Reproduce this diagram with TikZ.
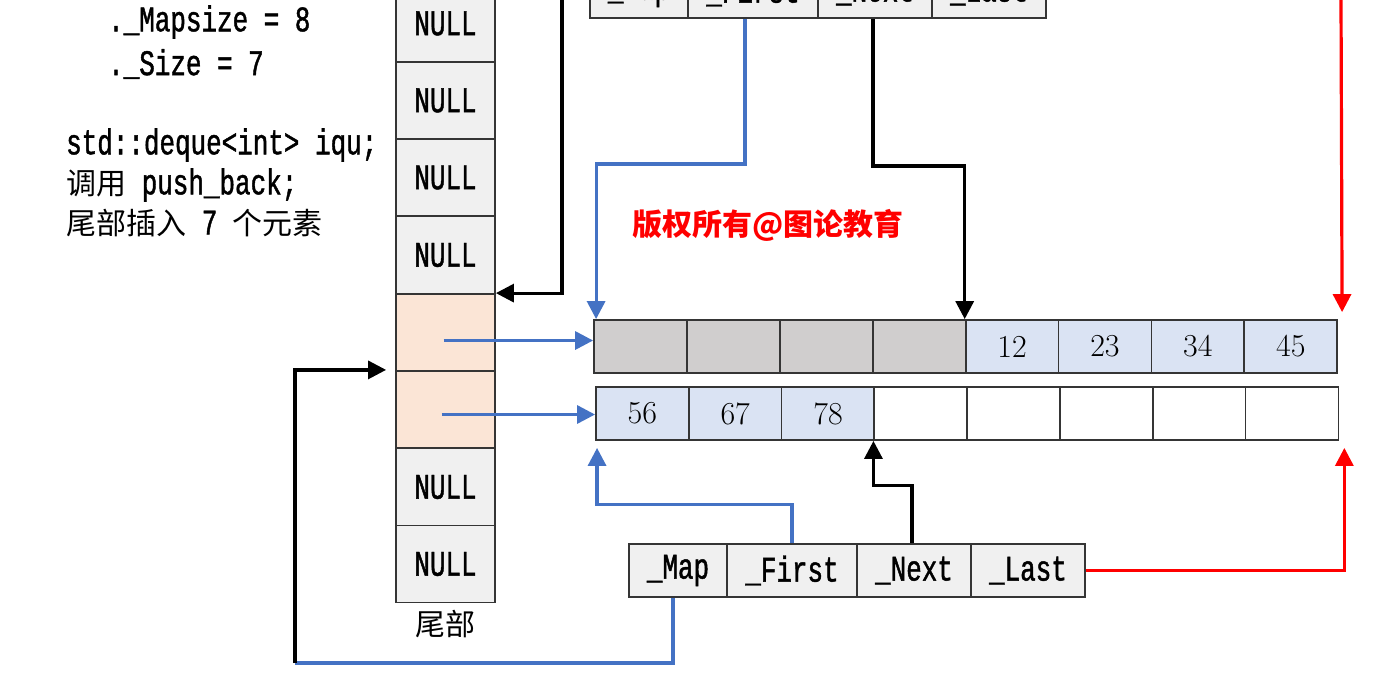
\documentclass[tikz,border=0pt]{standalone}
\usepackage{fontspec}
\usetikzlibrary{arrows.meta,calc}
\newfontfamily\cjk{Noto Sans CJK SC}
\newfontfamily\mono[FakeStretch=0.72,FakeBold=1.2]{Liberation Mono}
\definecolor{cellgray}{HTML}{F0F0F0}
\definecolor{peach}{HTML}{FBE5D6}
\definecolor{blockgray}{HTML}{D0CECE}
\definecolor{lblue}{HTML}{DAE3F3}
\definecolor{lineblue}{HTML}{4472C4}
\definecolor{outl}{HTML}{353535}
\tikzset{
  cell/.style={draw=outl, line width=1.8pt, inner sep=0pt, minimum height=53pt},
  monof/.style={font=\mono\fontsize{36}{40}\selectfont},
  mapc/.style={cell, monof, fill=cellgray, minimum width=99pt, minimum height=77pt},
  ptrc/.style={cell, monof, fill=cellgray},
  blk/.style={cell, minimum width=92.9pt, font=\addfontfeatures{FakeBold=0.8}\fontsize{32}{38}\selectfont},
  wire/.style={line width=3.2pt},
  conn/.style={wire, -{Triangle[length=18pt,width=18pt]}},
  txt/.style={monof, anchor=west, inner sep=0pt},
}
\begin{document}
\begin{tikzpicture}[x=1pt,y=-1pt]
\useasboundingbox (0,0) rectangle (1381,694);
\clip (0,0) rectangle (1381,694);
\fill[white] (0,0) rectangle (1381,694);

% texts
\node[txt] (ms) at (108,22) {.\_Mapsize = 8};
\node[txt] (sz) at (108,64) {.\_Size = 7};
\node[txt] (l1) at (66,145) {std::deque<int> iqu;};
\node[txt] (l2) at (66,185) {{\cjk\fontsize{30}{36}\selectfont 调用} push\_back;};
\node[txt] (l3) at (66,223) {{\cjk\fontsize{30}{36}\selectfont 尾部插入} 7 {\cjk\fontsize{30}{36}\selectfont 个元素}};
\node[text=red, font=\cjk\bfseries\fontsize{30}{36}\selectfont] (wm) at (768,225) {版权所有@图论教育};

% map column
\node[mapc] (m0) at (445.5,23.5) {NULL};
\node[mapc] (m1) at (445.5,100.5) {NULL};
\node[mapc] (m2) at (445.5,177.5) {NULL};
\node[mapc] (m3) at (445.5,255) {NULL};
\node[mapc, fill=peach] (m4) at (445.5,332.5) {};
\node[mapc, fill=peach] (m5) at (445.5,409.5) {};
\node[mapc] (m6) at (445.5,487) {NULL};
\node[mapc] (m7) at (445.5,564) {NULL};
\node[font=\cjk\fontsize{30}{36}\selectfont] (tail) at (445.5,624) {尾部};

% top iterator table
\node[ptrc, minimum width=98pt] (tf0) at (639,-8.5) {\_Map};
\node[ptrc, minimum width=130pt] (tf1) at (753,-8.5) {\_First};
\node[ptrc, minimum width=114pt] (tf2) at (875,-8.5) {\_Next};
\node[ptrc, minimum width=114pt] (tf3) at (989,-8.5) {\_Last};

% bottom iterator table
\node[ptrc, minimum width=98pt] (bq0) at (678,570.5) {\_Map};
\node[ptrc, minimum width=130pt] (bq1) at (792,570.5) {\_First};
\node[ptrc, minimum width=114pt] (bq2) at (914,570.5) {\_Next};
\node[ptrc, minimum width=114pt] (bq3) at (1028,570.5) {\_Last};

% block rows
\node[blk, fill=blockgray] (a0) at (640.45,346.5) {};
\node[blk, fill=blockgray] (a1) at (733.35,346.5) {};
\node[blk, fill=blockgray] (a2) at (826.25,346.5) {};
\node[blk, fill=blockgray] (a3) at (919.15,346.5) {};
\node[blk, fill=lblue] (a4) at (1012.05,346.5) {12};
\node[blk, fill=lblue] (a5) at (1104.95,346.5) {23};
\node[blk, fill=lblue] (a6) at (1197.85,346.5) {34};
\node[blk, fill=lblue] (a7) at (1290.75,346.5) {45};

\node[blk, fill=lblue] (b0) at (642.4,413.5) {56};
\node[blk, fill=lblue] (b1) at (735.2,413.5) {67};
\node[blk, fill=lblue] (b2) at (828.0,413.5) {78};
\node[blk, fill=white] (b3) at (920.8,413.5) {};
\node[blk, fill=white] (b4) at (1013.6,413.5) {};
\node[blk, fill=white] (b5) at (1106.4,413.5) {};
\node[blk, fill=white] (b6) at (1199.2,413.5) {};
\node[blk, fill=white] (b7) at (1292.0,413.5) {};

% connectors from top
\coordinate (topblk) at (562,0);
\draw[conn] (topblk) |- (m4.north east);
\coordinate (topred) at (1341,0);
\coordinate (redtip) at ($(a7.north east)+(4,-7)$);
\draw[conn, red] (topred) -- (redtip);
\draw[conn, lineblue] ([xshift=-8pt]tf1.south) -- ++(0,145) -| ([xshift=3pt]a0.north west);
\draw[conn] ([xshift=-2pt]tf2.south) -- ++(0,147) -| (a4.north west);

% map pointers
\coordinate (p4) at ($(m4.center)+(-2,8)$);
\coordinate (p5) at ($(m5.center)+(-4,5)$);
\draw[conn, lineblue] (p4) -- (p4 -| a0.west);
\draw[conn, lineblue] (p5) -- (p5 -| b0.west);

% connectors from bottom
\draw[conn, lineblue] (bq1.north) -- ++(0,-39) -| ($(b0.south west)+(2,7)$);
\draw[conn] ([xshift=-2pt]bq2.north) -- ++(0,-58) -| (b3.south west);
\draw[conn, red] (bq3.east) -| ($(b7.south east)+(5,7)$);
\coordinate (corner) at (295,663);
\draw[wire, lineblue] ([xshift=-5pt]bq0.south) |- (corner);
\draw[conn] (corner) |- ($(m4.south west)+(-9,-2)$);
\end{tikzpicture}
\end{document}
